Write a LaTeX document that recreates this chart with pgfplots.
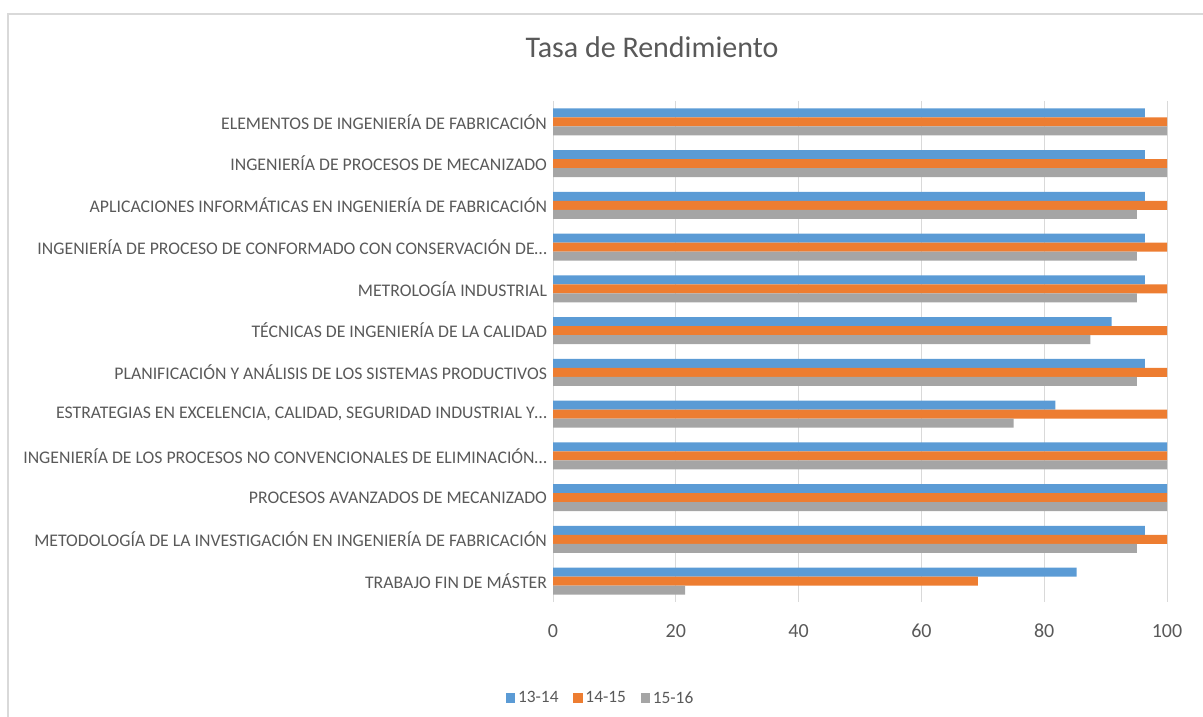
\documentclass[border=0pt]{standalone}
\usepackage{fontspec}
\setmainfont{Carlito}
\usepackage{pgfplots}
\pgfplotsset{compat=1.18}

\definecolor{serA}{HTML}{5B9BD5}
\definecolor{serB}{HTML}{ED7D31}
\definecolor{serC}{HTML}{A5A5A5}
\definecolor{txtgray}{HTML}{595959}
\definecolor{gridgray}{HTML}{D9D9D9}

\begin{document}
\begin{tikzpicture}
  % marco y titulo (1 unidad = 1 px de la referencia)
  \begin{scope}[x=0.75pt,y=0.75pt]
    \useasboundingbox (0,0) rectangle (1203,717);
    \draw[gridgray, line width=1.5pt] (8,0) -- (8,703) -- (1203,703);
    \node[text=txtgray, font=\fontsize{22.5}{24}\selectfont] at (652,670) {Tasa de Rendimiento};
  \end{scope}

  \begin{axis}[
      at={(414.75pt,86.25pt)}, anchor=south west,
      scale only axis, width=460.5pt, height=375.75pt,
      xbar=0pt, bar width=6.75pt,
      xmin=0, xmax=100, ymin=-0.5, ymax=11.5,
      y dir=reverse,
      xtick={0,20,...,100},
      ytick={0,...,11},
      yticklabels={
        ELEMENTOS DE INGENIERÍA DE FABRICACIÓN,
        INGENIERÍA DE PROCESOS DE MECANIZADO,
        APLICACIONES INFORMÁTICAS EN INGENIERÍA DE FABRICACIÓN,
        INGENIERÍA DE PROCESO DE CONFORMADO CON CONSERVACIÓN DE…,
        METROLOGÍA INDUSTRIAL,
        TÉCNICAS DE INGENIERÍA DE LA CALIDAD,
        PLANIFICACIÓN Y ANÁLISIS DE LOS SISTEMAS PRODUCTIVOS,
        {ESTRATEGIAS EN EXCELENCIA, CALIDAD, SEGURIDAD INDUSTRIAL Y…},
        INGENIERÍA DE LOS PROCESOS NO CONVENCIONALES DE ELIMINACIÓN…,
        PROCESOS AVANZADOS DE MECANIZADO,
        METODOLOGÍA DE LA INVESTIGACIÓN EN INGENIERÍA DE FABRICACIÓN,
        TRABAJO FIN DE MÁSTER},
      xmajorgrids,
      grid style={draw=gridgray, line width=0.75pt},
      axis line style={draw=none},
      major tick length=0pt,
      tick label style={text=txtgray},
      yticklabel style={font=\fontsize{13.3}{14}\selectfont, xshift=-1pt},
      xticklabel style={font=\fontsize{15}{16}\selectfont, yshift=-13pt},
      /pgf/number format/assume math mode=true,
      legend style={at={(0.078,-0.192)}, anchor=center, draw=none, fill=none,
        legend columns=3, font=\fontsize{13}{14}\selectfont, text=txtgray,
        /tikz/every even column/.append style={column sep=9pt}},
      legend image code/.code={\fill[#1] (0pt,-3.6pt) rectangle (7.2pt,3.6pt);},
    ]
    \addplot[fill=serA, draw=none, bar shift=6.75pt] coordinates {
      (96.4,0) (96.4,1) (96.4,2) (96.4,3) (96.4,4) (91.0,5)
      (96.4,6) (81.8,7) (100,8) (100,9) (96.4,10) (85.3,11)};
    \addlegendentry{13-14}
    \addplot[fill=serB, draw=none, bar shift=0pt] coordinates {
      (100,0) (100,1) (100,2) (100,3) (100,4) (100,5)
      (100,6) (100,7) (100,8) (100,9) (100,10) (69.2,11)};
    \addlegendentry{14-15}
    \addplot[fill=serC, draw=none, bar shift=-6.75pt] coordinates {
      (100,0) (100,1) (95.1,2) (95.1,3) (95.1,4) (87.5,5)
      (95.1,6) (75.0,7) (100,8) (100,9) (95.1,10) (21.5,11)};
    \addlegendentry{15-16}
  \end{axis}
\end{tikzpicture}
\end{document}
